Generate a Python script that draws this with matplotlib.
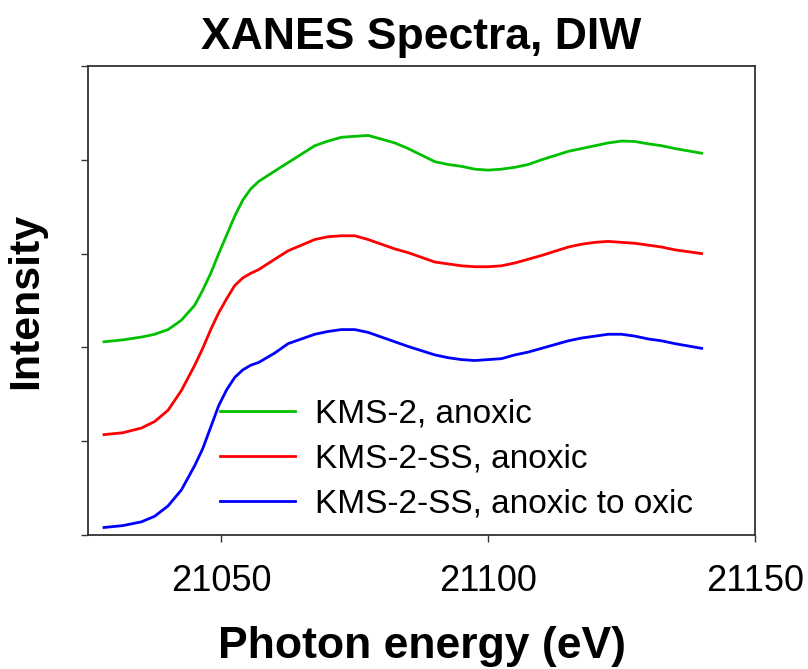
import matplotlib
matplotlib.use('Agg')
import matplotlib.pyplot as plt

plt.rcParams['font.family'] = ['Liberation Sans', 'DejaVu Sans']

# photon energy (eV), shared by the three spectra
energy = [21028, 21031.5, 21035, 21037.5, 21040, 21042.5, 21045, 21046.5,
          21048, 21049.5, 21051, 21052.5, 21054, 21055.5, 21057, 21060,
          21062.5, 21065, 21067.5, 21070, 21072.5, 21075, 21077.5, 21080,
          21082.5, 21085, 21090, 21092.5, 21095, 21097.5, 21100, 21102.5,
          21105, 21107.5, 21110, 21115, 21117.5, 21120, 21122.5, 21125,
          21127.5, 21130, 21132.5, 21135, 21140]

# stacked (offset) normalised intensities
kms2_anoxic = [2.06, 2.08, 2.11, 2.14, 2.19, 2.29, 2.45, 2.61,
               2.79, 3.00, 3.20, 3.40, 3.57, 3.69, 3.77, 3.88,
               3.97, 4.06, 4.15, 4.20, 4.24, 4.25, 4.26, 4.22,
               4.18, 4.12, 3.98, 3.95, 3.93, 3.90, 3.89, 3.90,
               3.92, 3.95, 4.00, 4.09, 4.12, 4.15, 4.18, 4.20,
               4.195, 4.17, 4.15, 4.12, 4.07]
kms2ss_anoxic = [1.07, 1.09, 1.14, 1.21, 1.33, 1.54, 1.81, 1.99,
                 2.19, 2.37, 2.52, 2.66, 2.74, 2.79, 2.83, 2.94,
                 3.03, 3.09, 3.15, 3.18, 3.19, 3.19, 3.15, 3.10,
                 3.05, 3.01, 2.91, 2.89, 2.87, 2.86, 2.86, 2.87,
                 2.90, 2.94, 2.98, 3.07, 3.10, 3.12, 3.13, 3.12,
                 3.11, 3.09, 3.07, 3.04, 3.00]
kms2ss_oxic = [0.08, 0.10, 0.14, 0.20, 0.31, 0.48, 0.74, 0.92,
               1.15, 1.38, 1.55, 1.68, 1.76, 1.81, 1.84, 1.94,
               2.04, 2.09, 2.14, 2.17, 2.19, 2.19, 2.16, 2.11,
               2.06, 2.01, 1.92, 1.89, 1.87, 1.86, 1.87, 1.88,
               1.92, 1.95, 1.99, 2.07, 2.10, 2.12, 2.14, 2.14,
               2.12, 2.09, 2.07, 2.04, 1.99]

labels = ["KMS-2, anoxic", "KMS-2-SS, anoxic", "KMS-2-SS, anoxic to oxic"]
colors = ["#00c000", "#ff0000", "#0000ff"]
series = [kms2_anoxic, kms2ss_anoxic, kms2ss_oxic]

fig = plt.figure(figsize=(8.08, 6.69), dpi=100)
ax = fig.add_axes([88/808, 134/669, 667/808, 469/669])

for ys, lab, col in zip(series, labels, colors):
    ax.plot(energy, ys, color=col, lw=2.0, label=lab,
            solid_joinstyle='round')

ax.set_xlim(21025, 21150)
ax.set_ylim(0, 5)
ax.set_xticks([21050, 21100, 21150])
ax.set_yticks([0, 1, 2, 3, 4, 5])
ax.set_yticklabels([])
ax.tick_params(direction='out', length=5, width=1, color='#333333',
               labelsize=26, pad=16)
for s in ax.spines.values():
    s.set_color('#333333')
    s.set_linewidth(1.3)

ax.set_title("XANES Spectra, DIW", fontsize=32, fontweight='bold', pad=12)
ax.set_xlabel("Photon energy (eV)", fontsize=32, fontweight='bold', labelpad=19)
ax.set_ylabel("Intensity", fontsize=31, fontweight='bold', labelpad=9)

ax.legend(loc='center left', bbox_to_anchor=(0.198, 0.162), frameon=False,
          fontsize=24, borderpad=0, borderaxespad=0, handlelength=2.25,
          handletextpad=0.6, labelspacing=0.41)

fig.savefig("out.png", dpi=100)
